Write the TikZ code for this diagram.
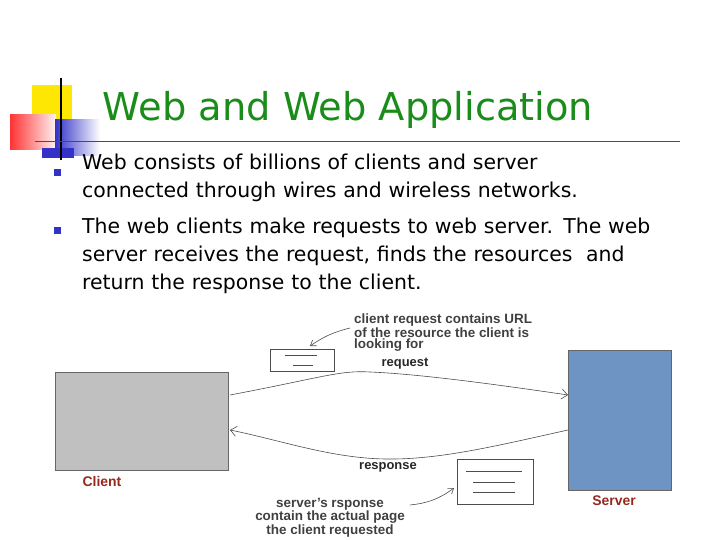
\documentclass[tikz,border=0pt]{standalone}
\usepackage{fontspec}
\setmainfont{Liberation Sans}
\newfontfamily\tah{DejaVu Sans}
\usetikzlibrary{arrows.meta}
\definecolor{tgreen}{RGB}{25,140,25}
\definecolor{bblue}{RGB}{50,50,200}
\definecolor{srv}{RGB}{110,148,196}
\definecolor{cli}{RGB}{192,192,192}
\definecolor{lbl}{RGB}{150,40,30}
\tikzset{doc/.style={draw=black!70,fill=white,line width=0.6bp},
 note/.style={font=\bfseries\fontsize{13.5}{11.5}\selectfont,align=left,text=black!75,inner sep=0},
 conn/.style={draw=black!70,line width=0.6bp,-{Straight Barb[length=6bp,width=10bp]}},
 btext/.style={font=\tah\fontsize{20.5}{28}\selectfont,anchor=north west,align=left,text width=620bp,inner sep=0}}
\begin{document}
\begin{tikzpicture}[x=1bp,y=-1bp]
\useasboundingbox (0,0) rectangle (720,540);
% logo
\fill[yellow!90!orange] (32,85) rectangle (72,122);
\shade[left color=red!80, right color=red!5] (10,115) rectangle (56,150);
\shade[left color=bblue, right color=white] (55,120) rectangle (100,156);
\fill[bblue] (42,148) rectangle (74,158);
\draw[black,line width=1.5bp] (61,78) -- (61,160);
\draw[black!70,line width=0.7bp] (35,141) -- (680,141);
\node[font=\tah\fontsize{38.5}{38}\selectfont,text=tgreen,anchor=center] (title) at (348,110) {Web and Web Application};
% bullets
\fill[bblue] (54,169) rectangle (61,176);
\fill[bblue] (54,227) rectangle (61,234);
\node[btext] (b1) at (82,154) {Web consists of billions of clients and server\\connected through wires and wireless networks.};
\node[btext] (b2) at (82,218) {The web clients make requests to web server. The web\\server receives the request, finds the resources\ \ and\\return the response to the client.};
% boxes
\node[draw=black!60,fill=cli,minimum width=173bp,minimum height=98bp,inner sep=0] (client) at (141.5,421) {};
\node[draw=black!60,fill=srv,minimum width=103bp,minimum height=140bp,inner sep=0] (server) at (619.5,420) {};
\node[font=\bfseries\fontsize{14}{14}\selectfont,text=lbl] (cl) at (102,482) {Client};
\node[font=\bfseries\fontsize{14}{14}\selectfont,text=lbl] (sl) at (614,501) {Server};
% arrows
\coordinate (rq1) at (230,395); \coordinate (rq2) at (568,395);
\coordinate (rs1) at (568,430); \coordinate (rs2) at (230,430);
\draw[conn] (rq1) .. controls (320,378) and (340,370) .. (370,372) .. controls (420,374) and (500,385) .. (rq2);
\draw[conn] (rs1) .. controls (500,445) and (440,460) .. (385,459) .. controls (330,458) and (280,440) .. (rs2);
\node[font=\bfseries\fontsize{13}{13}\selectfont,text=black!85] (req) at (405,364) {request};
\node[font=\bfseries\fontsize{13}{13}\selectfont,text=black!85] (resp) at (388,467) {response};
% docs
\node[doc,minimum width=64bp,minimum height=22bp] (d1) at (302,360) {};
\draw[black!70] (285,355) -- (317,355) (293,365) -- (313,365);
\node[doc,minimum width=76bp,minimum height=45bp] (d2) at (495,482) {};
\draw[black!70] (466,471) -- (522,471) (473,482) -- (515,482) (473,492) -- (515,492);
% notes
\node[note,anchor=north west] (n1) at (354,314) {client request contains URL\\of the resource the client is\\looking for};
\node[note,align=center,anchor=north] (n2) at (330,498) {server's rsponse\\contain the actual page\\the client requested};
\draw[conn,-{Straight Barb[length=5bp,width=7bp]}] (350,328) to[bend right=10] (310,346);
\draw[conn,-{Straight Barb[length=5bp,width=7bp]}] (410,505) to[bend right=15] (454,488);
\end{tikzpicture}
\end{document}
